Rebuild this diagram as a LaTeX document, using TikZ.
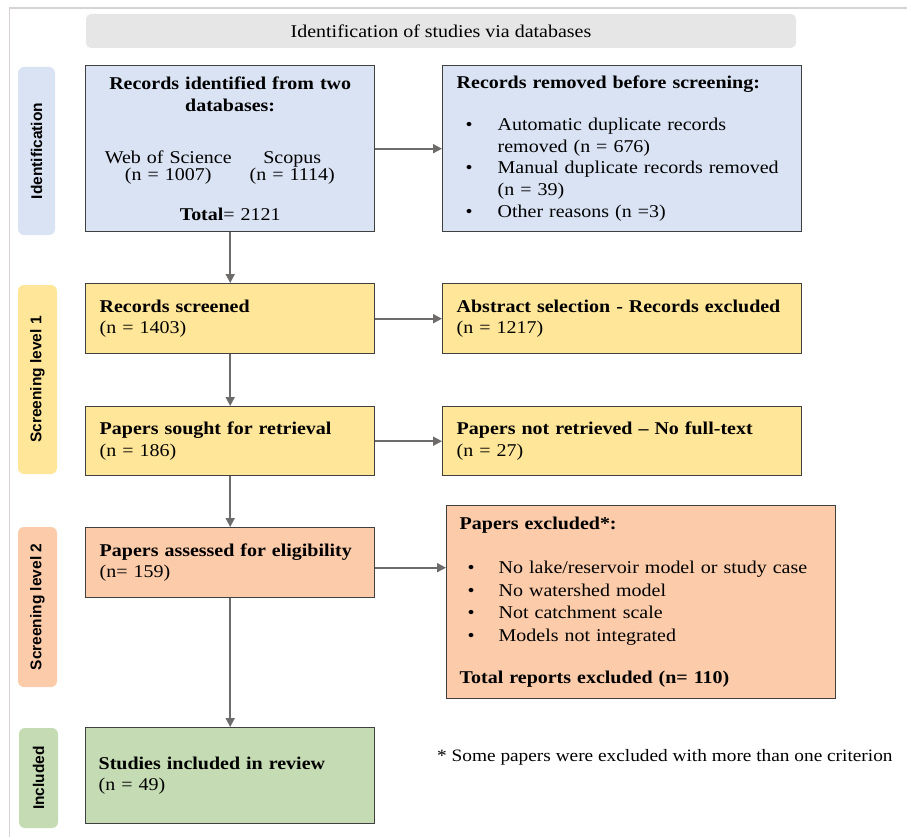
\documentclass[tikz,border=0pt]{standalone}
\usepackage{fontspec}
\setmainfont{Liberation Serif}[FakeStretch=1.11]
\newfontfamily\sidefont{Liberation Sans}
\usetikzlibrary{arrows.meta}
\definecolor{framecol}{HTML}{D8D2D2}
\definecolor{bordercol}{HTML}{404040}
\definecolor{arrcol}{HTML}{6E6B6B}
\definecolor{bluefill}{HTML}{DAE3F3}
\definecolor{yellowfill}{HTML}{FFE699}
\definecolor{peachfill}{HTML}{FBCBAA}
\definecolor{greenfill}{HTML}{C5DBB3}
\definecolor{bannerfill}{HTML}{E6E6E6}
\tikzset{
  bodyfont/.style={font=\fontsize{18}{21.7}\selectfont},
  box/.style={draw=bordercol, line width=1.4pt, rectangle, anchor=north west,
    inner xsep=14pt, inner ysep=0pt, bodyfont, align=left},
  side/.style={rectangle, rounded corners=6pt, rotate=90, inner sep=0pt,
    font=\sidefont\bfseries\fontsize{15.5}{18}\selectfont},
  arr/.style={draw=arrcol, line width=1.8pt,
    -{Triangle[length=9pt,width=9pt]}, arrcol},
}
\begin{document}
\begin{tikzpicture}[x=1pt,y=-1pt]
\useasboundingbox (0,0) rectangle (907,837);
% frame
\draw[framecol, line width=1.5pt] (910,8) -- (9.5,8) -- (9.5,840);
% banner
\node[fill=bannerfill, rounded corners=5pt, minimum width=710pt, minimum height=34pt,
  inner sep=0pt, font=\fontsize{18}{20}\selectfont] (ban) at (441,31)
  {Identification of studies via databases};
% side labels
\node[side, fill=bluefill, minimum width=168pt, minimum height=37pt] (sid) at (36.5,151) {Identification};
\node[side, fill=yellowfill, minimum width=189pt, minimum height=39pt] (ss1) at (37.5,379.5) {Screening level 1};
\node[side, fill=peachfill, minimum width=160pt, minimum height=39pt] (ss2) at (37.5,607) {Screening level 2};
\node[side, fill=greenfill, minimum width=100pt, minimum height=39pt] (sin) at (38.5,778) {Included};
% boxes
\node[box, fill=bluefill, minimum width=289pt, minimum height=166pt, text width=261pt, align=center] (b1) at (85,65)
 {\textbf{Records identified from two}\\\textbf{databases:}\\[31pt]
  \makebox[124pt][c]{Web of Science}\makebox[124pt][c]{Scopus}\\[-5pt]
  \makebox[124pt][c]{(n = 1007)}\makebox[124pt][c]{(n = 1114)}\\[18pt]
  \textbf{Total}= 2121};
\node[box, fill=bluefill, minimum width=359pt, minimum height=166pt, text width=331pt] (b2) at (442,65)
 {\textbf{Records removed before screening:}\\[20pt]
  \hspace*{9pt}\makebox[32pt][l]{\textbullet}Automatic duplicate records\\
  \hspace*{41pt}removed (n = 676)\\
  \hspace*{9pt}\makebox[32pt][l]{\textbullet}Manual duplicate records removed\\
  \hspace*{41pt}(n = 39)\\
  \hspace*{9pt}\makebox[32pt][l]{\textbullet}Other reasons (n =3)};
\node[box, fill=yellowfill, minimum width=289pt, minimum height=70pt, text width=261pt] (b3) at (85,283)
 {\textbf{Records screened}\\(n = 1403)};
\node[box, fill=yellowfill, minimum width=359pt, minimum height=70pt, text width=331pt] (b4) at (442,283)
 {\textbf{Abstract selection - Records excluded}\\(n = 1217)};
\node[box, fill=yellowfill, minimum width=289pt, minimum height=69pt, text width=261pt] (b5) at (85,406)
 {\textbf{Papers sought for retrieval}\\(n = 186)};
\node[box, fill=yellowfill, minimum width=359pt, minimum height=69pt, text width=331pt] (b6) at (442,406)
 {\textbf{Papers not retrieved – No full-text}\\(n = 27)};
\node[box, fill=peachfill, minimum width=289pt, minimum height=70pt, text width=261pt] (b7) at (85,527)
 {\textbf{Papers assessed for eligibility}\\(n= 159)};
\node[box, fill=peachfill, minimum width=389pt, minimum height=193pt, text width=363pt, inner xsep=13pt,
  font=\fontsize{18}{22.7}\selectfont] (b8) at (446,505)
 {\textbf{Papers excluded*:}\\[21pt]
  \hspace*{8pt}\makebox[31pt][l]{\textbullet}No lake/reservoir model or study case\\
  \hspace*{8pt}\makebox[31pt][l]{\textbullet}No watershed model\\
  \hspace*{8pt}\makebox[31pt][l]{\textbullet}Not catchment scale\\
  \hspace*{8pt}\makebox[31pt][l]{\textbullet}Models not integrated\\[19pt]
  \textbf{Total reports excluded (n= 110)}};
\node[box, fill=greenfill, minimum width=289pt, minimum height=96pt, text width=263pt, inner xsep=13pt] (b9) at (85,727)
 {\textbf{Studies included in review}\\(n = 49)};
% note
\node[anchor=west, inner sep=0pt, font=\fontsize{17.4}{20}\selectfont] (note) at (437,757)
 {* Some papers were excluded with more than one criterion};
% connectors
\draw[arr] (b1.east) -- (b2.west);
\draw[arr] (b1.south) -- (b3.north);
\draw[arr] (b3.east) -- (b4.west);
\draw[arr] (b3.south) -- (b5.north);
\draw[arr] (b5.east) -- (b6.west);
\draw[arr] (b5.south) -- (b7.north);
\draw[arr] ([yshift=-5pt]b7.east) -- ([yshift=-5pt]b7.east -| b8.west);
\draw[arr] (b7.south) -- (b9.north);
\end{tikzpicture}
\end{document}
